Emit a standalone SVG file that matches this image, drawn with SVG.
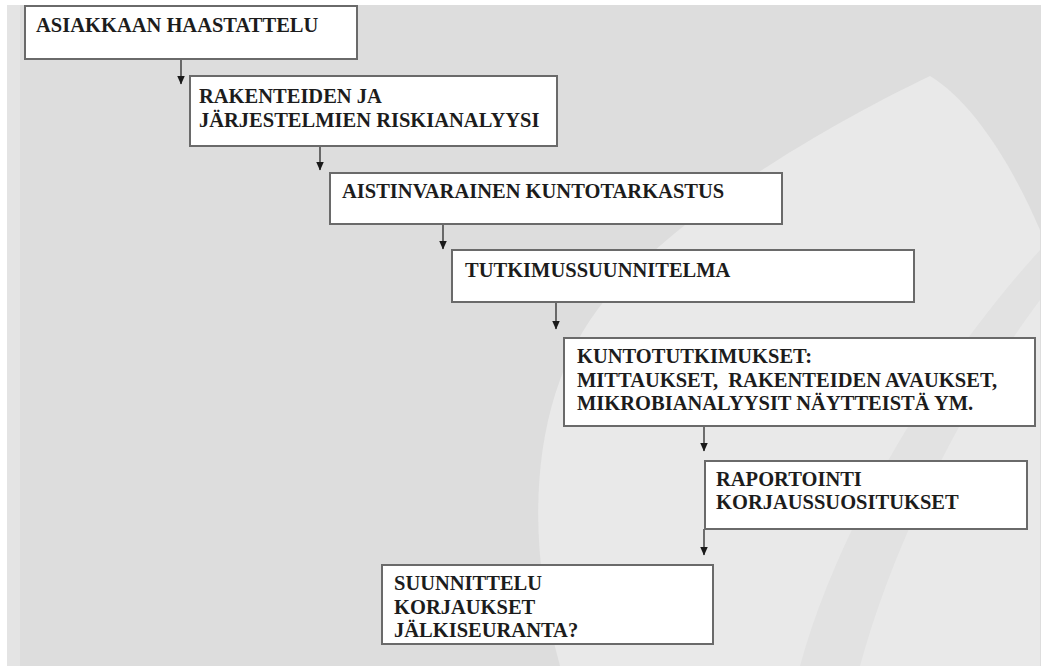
<svg xmlns="http://www.w3.org/2000/svg" width="1045" height="666" viewBox="0 0 1045 666">
<style>
.box{fill:#ffffff;stroke:#6a6a6a;stroke-width:2}
.t{font-family:'Liberation Serif','Times New Roman','DejaVu Serif',serif;font-weight:bold;font-size:20.5px;fill:#1c1c1c}
.c{stroke:#2a2a2a;stroke-width:1.3;fill:none}
</style>
<defs>
<marker id="ad" markerWidth="9" markerHeight="9" refX="8.5" refY="4.5" orient="auto" markerUnits="userSpaceOnUse" viewBox="0 0 9 9">
<path d="M0 0.5 L9 4.5 L0 8.5 Z" fill="#1a1a1a"/>
</marker>
</defs>
<g id="background">
<rect x="0" y="0" width="1045" height="666" fill="#ffffff"/>
<rect x="7" y="5" width="1034" height="661" fill="#dddddd"/>
<rect x="7" y="5" width="13" height="661" fill="#e4e4e4"/>
<path d="M930 76 C880 100 700 190 605 300 C535 385 520 520 560 666 L1040 666 L1040 230 C1010 160 970 100 930 76 Z" fill="#e9e9e9"/>
<path d="M1040 250 L1040 300 C980 380 900 520 860 666 L800 666 C840 520 940 360 1040 250 Z" fill="#e2e2e2"/>
</g>
<g id="connectors">
<line class="c" x1="181" y1="59" x2="181" y2="84" marker-end="url(#ad)"/>
<line class="c" x1="320" y1="146" x2="320" y2="170" marker-end="url(#ad)"/>
<line class="c" x1="443" y1="224" x2="443" y2="249" marker-end="url(#ad)"/>
<line class="c" x1="556" y1="302" x2="556" y2="329" marker-end="url(#ad)"/>
<line class="c" x1="704" y1="426" x2="704" y2="451" marker-end="url(#ad)"/>
<line class="c" x1="704" y1="529" x2="704" y2="555" marker-end="url(#ad)"/>
</g>
<g id="n1">
<rect class="box" x="25" y="6" width="332" height="53"/>
<text class="t" font-family="Liberation Serif" x="36" y="32">ASIAKKAAN HAASTATTELU</text>
</g>
<g id="n2">
<rect class="box" x="190" y="76" width="367" height="70"/>
<text class="t" font-family="Liberation Serif" x="199" y="103">RAKENTEIDEN JA</text>
<text class="t" font-family="Liberation Serif" x="199" y="127">JÄRJESTELMIEN RISKIANALYYSI</text>
</g>
<g id="n3">
<rect class="box" x="330" y="173" width="452" height="51"/>
<text class="t" font-family="Liberation Serif" x="342" y="198">AISTINVARAINEN KUNTOTARKASTUS</text>
</g>
<g id="n4">
<rect class="box" x="452" y="250" width="462" height="52"/>
<text class="t" font-family="Liberation Serif" x="465" y="277">TUTKIMUSSUUNNITELMA</text>
</g>
<g id="n5">
<rect class="box" x="564" y="338" width="471" height="88"/>
<text class="t" font-family="Liberation Serif" x="577" y="363">KUNTOTUTKIMUKSET:</text>
<text class="t" font-family="Liberation Serif" x="577" y="387" xml:space="preserve">MITTAUKSET,  RAKENTEIDEN AVAUKSET,</text>
<text class="t" font-family="Liberation Serif" x="577" y="410">MIKROBIANALYYSIT NÄYTTEISTÄ YM.</text>
</g>
<g id="n6">
<rect class="box" x="705" y="461" width="322" height="68"/>
<text class="t" font-family="Liberation Serif" x="716" y="486">RAPORTOINTI</text>
<text class="t" font-family="Liberation Serif" x="716" y="509">KORJAUSSUOSITUKSET</text>
</g>
<g id="n7">
<rect class="box" x="382" y="565" width="331" height="79"/>
<text class="t" font-family="Liberation Serif" x="394" y="590">SUUNNITTELU</text>
<text class="t" font-family="Liberation Serif" x="394" y="614">KORJAUKSET</text>
<text class="t" font-family="Liberation Serif" x="394" y="637">JÄLKISEURANTA?</text>
</g>
</svg>
